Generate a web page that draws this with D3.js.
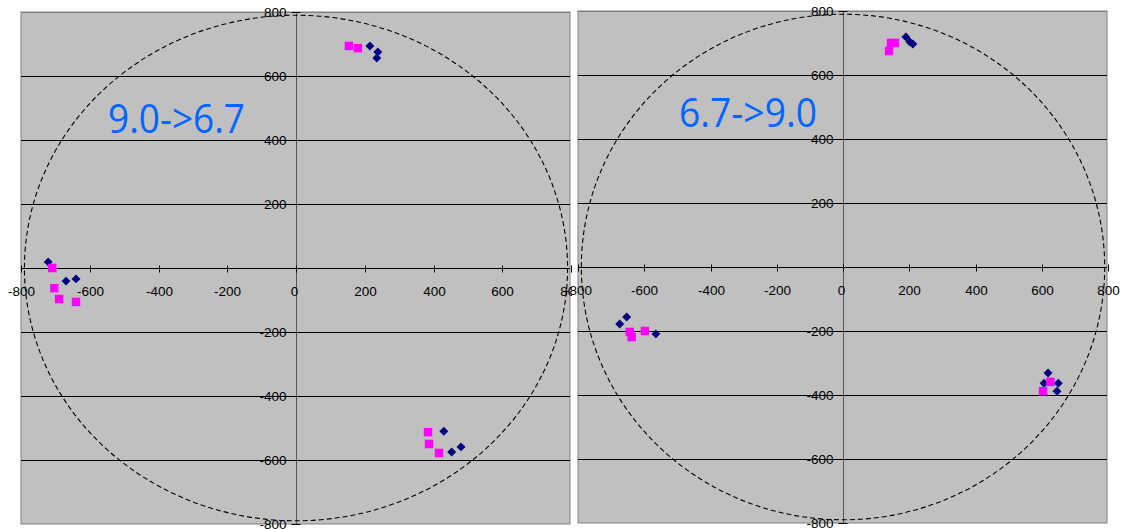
<!DOCTYPE html>
<meta charset="utf-8">
<style>
body { margin: 0; background: #fff; }
text { font-family: 'Liberation Sans', Arial, sans-serif; font-size: 13.5px; fill: #000; }
.title { font-family: 'Open Sans', sans-serif; font-size: 40px; fill: #0066ff; }
</style>
<body>
<svg width="1131" height="529"></svg>
<script src="https://d3js.org/d3.v7.min.js"></script>
<script>

// values (x, y pairs)
var leftBlue = [[215,694],[238,675],[235,656],[-721,19],[-669,-41],[-640,-34],[430,-510],[453,-575],[480,-559]];
var leftPink = [[154,694],[180,687],[-709,0],[-703,-63],[-689,-97],[-640,-106],[384,-513],[387,-550],[416,-578]];
var rightBlue = [[190,719],[202,703],[211,697],[-653,-156],[-674,-178],[-565,-209],[619,-331],[607,-363],[650,-363],[646,-388]];
var rightPink = [[145,700],[157,700],[139,675],[-644,-203],[-638,-219],[-598,-200],[626,-359],[604,-388]];
var ticks = [-800, -600, -400, -200, 0, 200, 400, 600, 800];
var circleR = 790;

var svg = d3.select("svg");

function panel(cfg, blue, pink, title) {
  var x = d3.scaleLinear().domain([-800, 800]).range([cfg.x0, cfg.x1]);
  var y = d3.scaleLinear().domain([-800, 800]).range([cfg.y1, cfg.y0]);
  var g = svg.append("g");

  // white backing so this panel covers its neighbour
  g.append("rect")
      .attr("x", cfg.x0 - 6).attr("y", 0)
      .attr("width", cfg.x1 - cfg.x0 + 12).attr("height", 529)
      .attr("fill", "#fff");

  g.append("rect")
      .attr("x", cfg.x0).attr("y", cfg.y0)
      .attr("width", cfg.x1 - cfg.x0 - 1).attr("height", cfg.y1 - cfg.y0)
      .attr("fill", "#c0c0c0")
      .attr("stroke", "#808080");

  // horizontal gridlines
  g.selectAll(".grid")
    .data(ticks.filter(function(d) { return d > -800; }))
    .enter().append("line")
      .attr("x1", cfg.x0).attr("x2", cfg.x1 - 1)
      .attr("y1", function(d) { return Math.round(y(d)) + 0.5; })
      .attr("y2", function(d) { return Math.round(y(d)) + 0.5; })
      .attr("stroke", function(d) { return d == 800 ? "#808080" : "#000"; });

  // y axis line
  var ax = Math.round(x(0)) + 0.5;
  g.append("line")
      .attr("x1", ax).attr("x2", ax)
      .attr("y1", cfg.y0).attr("y2", cfg.y1)
      .attr("stroke", "#555");

  // y ticks + labels
  ticks.forEach(function(t) {
    var ty = Math.round(y(t)) + 0.5;
    g.append("line").attr("x1", ax - 5).attr("x2", ax + 4)
        .attr("y1", ty).attr("y2", ty).attr("stroke", "#000");
    if (t != 0) {
      g.append("text").attr("x", ax - 10).attr("y", ty)
          .attr("dy", "0.35em").attr("text-anchor", "end").text(t);
    }
  });

  // x ticks + labels
  var ay = Math.round(y(0)) + 0.5;
  ticks.forEach(function(t) {
    var tx = Math.round(x(t)) + 0.5;
    g.append("line").attr("x1", tx).attr("x2", tx)
        .attr("y1", ay - 3).attr("y2", ay + 4).attr("stroke", "#000");
    g.append("text").attr("x", tx - (t == 0 ? 2 : 0)).attr("y", ay + 27)
        .attr("text-anchor", "middle").text(t);
  });

  // dashed circle
  g.append("ellipse")
      .attr("cx", x(0)).attr("cy", y(0))
      .attr("rx", x(circleR) - x(0)).attr("ry", y(0) - y(circleR))
      .attr("fill", "none")
      .attr("stroke", "#000")
      .attr("stroke-width", 1.1)
      .attr("stroke-dasharray", "5,3");

  g.selectAll(".blue")
    .data(blue)
    .enter().append("path")
      .attr("d", d3.symbol().type(d3.symbolSquare).size(40))
      .attr("transform", function(d) { return "translate(" + x(d[0]) + "," + y(d[1]) + ") rotate(45)"; })
      .attr("fill", "#000080");

  g.selectAll(".pink")
    .data(pink)
    .enter().append("path")
      .attr("d", d3.symbol().type(d3.symbolSquare).size(72))
      .attr("transform", function(d) { return "translate(" + x(d[0]) + "," + y(d[1]) + ")"; })
      .attr("fill", "#ff00ff");

  g.append("text")
      .attr("class", "title")
      .attr("x", cfg.tx).attr("y", cfg.ty)
      .attr("textLength", cfg.tw)
      .attr("lengthAdjust", "spacingAndGlyphs")
      .text(title);
}

panel({x0: 21, x1: 571, y0: 12, y1: 524, tx: 108, ty: 133, tw: 137}, leftBlue, leftPink, "9.0->6.7");
panel({x0: 578, x1: 1108, y0: 11, y1: 523, tx: 679, ty: 127, tw: 138}, rightBlue, rightPink, "6.7->9.0");

</script>
